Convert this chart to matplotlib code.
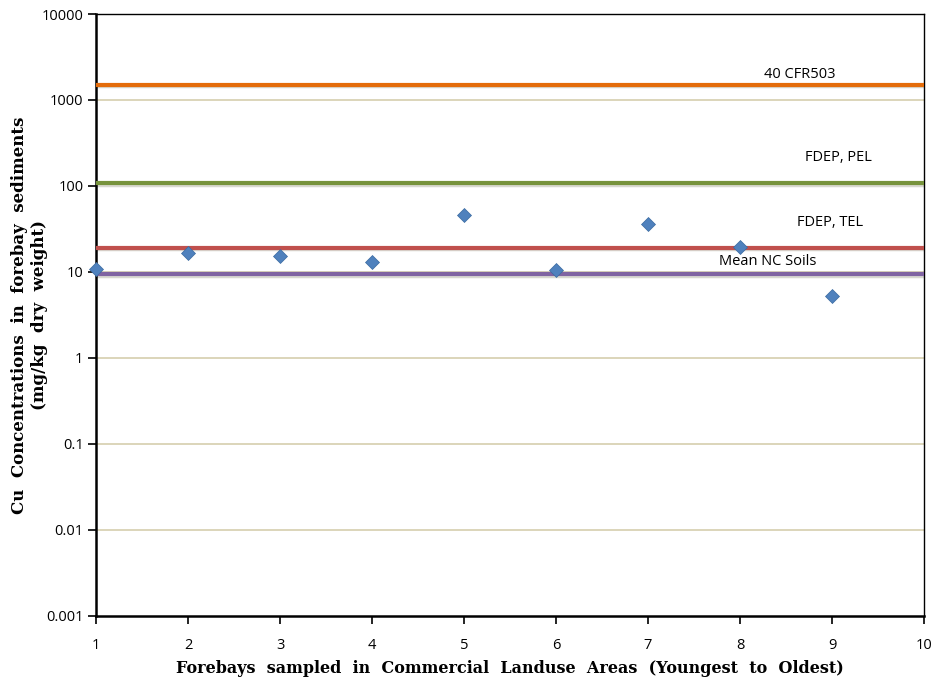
import matplotlib
matplotlib.use("Agg")
import matplotlib.pyplot as plt
from matplotlib.ticker import FixedLocator, NullLocator

forebays = [1, 2, 3, 4, 5, 6, 7, 8, 9]
cu_conc = [10.9, 16.4, 15.3, 13.2, 45.4, 10.6, 36.3, 19.6, 5.2]

ref_names = ["40 CFR503", "FDEP, PEL", "FDEP, TEL", "Mean NC Soils"]
ref_values = [1500, 108, 19.0, 9.4]
ref_colors = ["#E46C0A", "#77933C", "#C0504D", "#8064A2"]
ref_label_x = [8.65, 9.07, 8.98, 8.30]
ref_label_y = [1960, 215, 37.6, 13.3]

yticks = [0.001, 0.01, 0.1, 1, 10, 100, 1000, 10000]
ytick_labels = ["0.001", "0.01", "0.1", "1", "10", "100", "1000", "10000"]
xticks = [1, 2, 3, 4, 5, 6, 7, 8, 9, 10]

fig = plt.figure(figsize=(9.34, 6.84), dpi=100)
ax = fig.add_axes([0.1028, 0.0998, 0.8865, 0.8797])
ax.set_yscale("log")
ax.set_xlim(1, 10)
ax.set_ylim(0.001, 10000)

for yv in yticks[1:-1]:
    ax.axhline(yv, color="#D9D2B4", lw=1.3, zorder=1)

for name, val, col, lx, ly in zip(ref_names, ref_values, ref_colors, ref_label_x, ref_label_y):
    ax.axhline(val * 0.96, color="#D8D8D0", lw=2.5, zorder=2)
    ax.axhline(val, color=col, lw=3, zorder=3)
    ax.text(lx, ly, name, ha="center", va="center", fontsize=10.5,
            family="Open Sans")

ax.plot(forebays, cu_conc, linestyle="none", marker="D", markersize=7,
        color="#4F81BD", markeredgecolor="#3A6AA0", markeredgewidth=0.5, zorder=5,
        clip_on=False)

ax.yaxis.set_major_locator(FixedLocator(yticks))
ax.yaxis.set_minor_locator(NullLocator())
ax.set_yticklabels(ytick_labels)
ax.set_xticks(xticks)
ax.set_xticklabels([str(x) for x in xticks])
ax.tick_params(axis="both", direction="out", length=6, width=1.2, labelsize=10.5)
ax.tick_params(axis="x", pad=10)
ax.tick_params(axis="y", pad=3)
for lab in ax.get_xticklabels() + ax.get_yticklabels():
    lab.set_family("Open Sans")

for s in ax.spines.values():
    s.set_color("black")
ax.spines["left"].set_linewidth(1.8)
ax.spines["bottom"].set_linewidth(1.8)
ax.spines["top"].set_linewidth(1.0)
ax.spines["right"].set_linewidth(1.0)

ax.set_xlabel("Forebays  sampled  in  Commercial  Landuse  Areas  (Youngest  to  Oldest)",
              fontsize=11.5, fontweight="bold", family="DejaVu Serif", labelpad=5)
ax.set_ylabel("Cu  Concentrations  in  forebay  sediments\n(mg/kg  dry  weight)",
              fontsize=12, fontweight="bold", family="DejaVu Serif",
              linespacing=1.2)
ax.yaxis.set_label_coords(-0.058, 0.5)

fig.savefig("out.png", dpi=100)
